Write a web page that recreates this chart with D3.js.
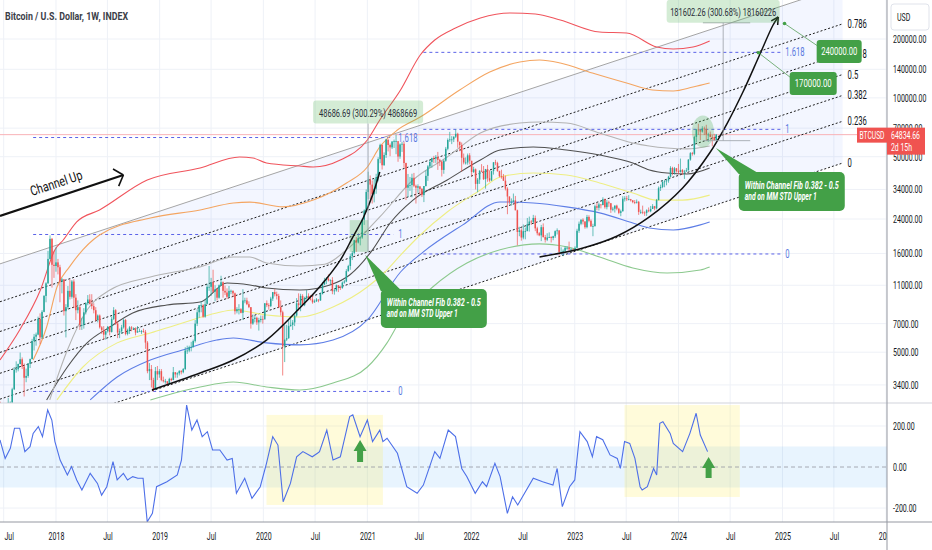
<!DOCTYPE html>
<html><head><meta charset="utf-8">
<script src="https://cdn.jsdelivr.net/npm/d3@7"></script>
<style>body{margin:0;background:#fff;overflow:hidden}svg{display:block;font-family:Roboto,"Noto Sans",sans-serif}</style>
</head><body>
<svg id="c" width="932" height="550"></svg>
<script>
// ---------- DATA ----------
const title = "Bitcoin / U.S. Dollar, 1W, INDEX";
const firstWeek = "2017-06-19";
const firstOpen = 2530;
// weekly candles [high, low, close]; open = previous close
const w2017 = [[2790,2430,2500],[2630,2340,2500],[2700,2480,2510],[2540,1840,1930],[2920,1920,2760],[2800,2480,2760],[3290,2600,3230],[4200,3200,4070],[4490,3930,4090],[4370,3990,4350],[4980,4330,4600],[4700,4100,4220],[4380,2970,3700],[4120,3510,3780],[4400,3700,4360],[4640,4150,4610],[5850,4600,5700],[6200,5100,6000],[6300,5400,6150],[7600,6100,7400],[7900,5500,5950],[8200,5850,8040],[9800,8000,9700],[11400,9000,11250],[16500,11200,15000],[19800,14900,19000],[19200,10700,14000],[16500,12000,13800]];
const w2018 = [[17200,12900,14400],[15000,12500,13600],[14000,9000,11500],[12000,10000,11800],[11800,7700,8100],[8800,5950,8500],[10900,8300,10300],[11800,9300,9600],[11700,9400,11500],[11800,8400,9500],[9900,7300,8200],[9200,7900,8500],[8700,6500,6900],[7500,6500,6900],[8400,6600,8000],[9000,7800,8900],[9800,8700,9300],[9900,8900,8800],[9900,8300,8600],[8900,7900,8200],[8500,7200,7300],[7800,7100,7700],[7800,6600,6700],[6800,6200,6500],[6800,5800,6150],[6400,5800,6400],[6800,6300,6750],[6800,6100,6350],[7600,6300,7400],[8500,7300,8200],[8300,6900,7000],[7200,5900,6300],[6600,5900,6400],[6900,6200,6700],[7400,6600,7300],[7400,6100,6200],[6600,6100,6500],[6800,6200,6700],[6800,6400,6600],[6700,6500,6600],[6700,6100,6300],[6800,6300,6400],[6600,6400,6400],[6500,6200,6400],[6600,6300,6350],[6500,5200,5600],[5700,3900,4000],[4400,3600,4100],[4300,3300,3600],[3700,3150,3200],[4200,3200,4000],[4250,3600,3850]];
const w2019 = [[4100,3700,4000],[4100,3550,3600],[3750,3500,3550],[3650,3450,3550],[3550,3370,3450],[3700,3400,3650],[3700,3550,3600],[4200,3600,3950],[3950,3700,3850],[3950,3700,3900],[4050,3800,4000],[4050,3850,3950],[4150,3900,4100],[5300,4050,5100],[5400,4900,5100],[5400,5000,5300],[5650,5050,5300],[5800,5300,5700],[7300,5600,7000],[8300,6800,8000],[8700,7500,8700],[9100,8000,8700],[8800,7500,7600],[9300,7500,8800],[11200,8900,10800],[13800,10300,10800],[12000,9700,11400],[13200,10100,10200],[11000,9100,10500],[10600,9200,9500],[11100,9400,11000],[12300,10900,11400],[11500,9500,10300],[10950,9800,10100],[10600,9350,9600],[10900,9600,10300],[10450,9900,10300],[10350,9600,10000],[10100,7800,8100],[8500,7900,8300],[8800,7800,8300],[8400,7900,7950],[10500,7300,9200],[9500,8900,9200],[9500,8700,8800],[9100,8400,8500],[8500,6600,7000],[7800,6900,7400],[7700,7100,7500],[7600,6900,7100],[7500,6450,7300],[7700,7100,7400]];
const w2020 = [[7700,7000,7350],[8900,7650,8900],[9200,8500,8700],[8900,8250,8600],[9600,8500,9400],[10150,9150,10150],[10500,9650,9900],[10200,9300,9700],[9950,8400,8500],[9200,7700,8000],[8150,3800,5350],[6900,4450,5800],[6900,5700,5900],[7300,5850,6800],[7450,6750,6900],[7300,6500,7100],[7800,6800,7700],[9450,7600,8900],[10000,8150,8700],[9950,8100,9700],[9900,8800,8700],[9600,8600,9450],[10400,9300,9700],[10000,9250,9400],[9800,9200,9300],[9800,8850,9000],[9300,8950,9100],[9450,9050,9300],[9300,9000,9200],[10100,9150,9900],[11450,9900,11100],[12000,11000,11700],[12100,11150,11900],[12500,11500,11650],[11800,11100,11700],[12100,9900,10250],[10500,9850,10350],[11100,10200,11000],[11000,10150,10750],[10950,10400,10650],[11500,10550,11350],[11700,11200,11500],[13300,11400,13000],[14000,12900,13800],[15950,13200,15500],[16450,14800,16100],[18800,15800,18700],[19400,16300,18200],[19900,18000,19200],[19450,17600,19300],[24200,19000,23800],[26900,22400,26500],[34000,26200,33000]];
const w2021 = [[41900,30300,38200],[40100,30400,36000],[37800,28800,32100],[38500,29200,34300],[40900,32300,39300],[49700,37400,48600],[58300,46300,57500],[57600,43000,45200],[52600,45000,51000],[61700,49300,61200],[61000,53200,57400],[58400,50300,55800],[60000,54700,59800],[61200,55400,60000],[64900,51500,60100],[57500,47100,50100],[58500,48800,57800],[59500,52900,58200],[59600,43900,46400],[46600,30000,34700],[40800,31100,35700],[39400,33400,35800],[40900,31000,39000],[41300,34900,35500],[36000,28800,34700],[36100,32700,35300],[35100,32100,34200],[34600,31100,31800],[35400,29300,35400],[42600,35200,39900],[45300,37600,44600],[48100,43800,47000],[49300,43900,49300],[50500,46400,48900],[51000,46500,49900],[52900,42800,48200],[48800,44800,47300],[47400,39600,42800],[48400,40900,47700],[56100,47100,54900],[62000,53900,60900],[67000,59500,61300],[63700,58000,61300],[63500,59400,63300],[69000,62300,65500],[66300,55600,59700],[59300,53300,57300],[59100,42000,49400],[51900,45700,46700],[49600,45600,46700],[51900,45500,50800],[52100,45700,47700]];
const w2022 = [[47500,39700,41800],[44400,41300,43100],[43500,34000,36300],[38900,32900,38200],[42600,36300,42400],[45800,41700,42200],[44800,38000,38400],[43300,34300,43200],[45400,37200,38800],[42600,37200,37800],[42400,37600,42200],[46900,40500,46800],[48200,45200,46400],[47100,41900,42200],[42400,39200,39700],[42900,38600,39500],[40800,37600,37700],[40000,33600,34300],[34900,25400,31300],[31300,28600,29400],[30600,28100,29400],[32400,29300,29900],[31500,26600,26600],[26800,17600,20600],[21900,19600,21000],[21500,18600,19300],[22500,18900,20800],[21700,18900,20800],[24300,20800,22600],[24700,20700,23300],[23700,22400,23200],[25200,22700,24300],[25000,20800,21500],[21900,19800,20300],[20600,19600,19800],[22400,18500,21800],[22800,19300,19400],[19900,18200,18800],[20300,18500,19300],[20500,19200,19400],[19600,18200,19200],[19700,18700,19600],[21000,19200,20800],[21500,20000,21000],[21000,15600,16300],[17200,15800,16300],[16800,15500,16500],[17400,16000,17100],[17400,16700,17100],[18400,16500,16800],[17100,16300,16800],[16900,16400,16600]];
const w2023 = [[17400,16500,17100],[21400,17100,20900],[23300,20400,22700],[23900,22300,23800],[24200,22500,23300],[23400,21400,21800],[25200,21500,24600],[25100,23100,23500],[23900,21900,22000],[22700,19600,22100],[28400,21900,27900],[29000,26600,27400],[29100,26500,28500],[28500,27200,28300],[31000,28200,30300],[30500,27100,27600],[30000,26900,29200],[29800,27700,28900],[29000,25800,26800],[27700,26300,27100],[28200,25900,28100],[28400,26600,27100],[27400,25400,25800],[26800,24800,26300],[31400,26200,30500],[31400,29500,30600],[31500,29700,30300],[31800,29900,30300],[30400,29500,29900],[30000,28900,29300],[30000,28600,29100],[30200,28800,29400],[29700,25200,26100],[26800,25500,26100],[28100,25400,25900],[26300,24900,25800],[26900,24900,26600],[27500,26000,26300],[28000,26000,27000],[28600,27200,27900],[28000,26600,27200],[30400,26900,30000],[35200,29900,34500],[36000,33400,35000],[38000,34500,37100],[37900,34900,37400],[38400,35700,37800],[39900,36800,39500],[44700,39300,43800],[44400,40200,41400],[44300,40500,43600],[43800,41500,42200]];
const w2024 = [[45900,40700,41700],[48900,41500,42800],[43200,40300,41600],[42800,38500,42000],[43800,41900,42600],[48600,42500,48300],[52800,47700,52100],[52900,50600,51700],[64000,50900,63100],[69200,59200,68900],[73800,64600,68400],[68900,60800,67200],[71600,66400,69700],[71300,64500,69400],[72800,60700,64900],[66300,59600,64900],[67200,62800,63100],[64700,56500,63000],[65500,60200,60800],[65300,60700,64834.66]];
const lastPrice = 64834.66;

const priceTicks = [200000,140000,100000,70000,50000,34000,24000,16000,11000,7000,5000,3400];
const oscTicks = [200,0,-200];
const timeTicks = ["2017-07-01","2018-01-01","2018-07-01","2019-01-01","2019-07-01","2020-01-01","2020-07-01","2021-01-01","2021-07-01","2022-01-01","2022-07-01","2023-01-01","2023-07-01","2024-01-01","2024-07-01","2025-01-01","2025-07-01","2026-01-01"];

// moving-average / std bands [decimal year, price]
const maRed = [[2017.46,4560],[2017.65,6500],[2017.85,10400],[2017.99,16700],[2018.07,18750],[2018.20,23200],[2018.42,26700],[2018.88,38000],[2019.39,43800],[2019.77,49800],[2019.90,49200],[2020.03,46400],[2020.35,44800],[2020.48,44300],[2020.74,48100],[2021.00,60900],[2021.12,77000],[2021.32,109700],[2021.51,165700],[2021.65,197700],[2021.85,227700],[2022.09,256100],[2022.38,271600],[2022.62,268500],[2022.86,250200],[2023.24,217300],[2023.50,214700],[2023.79,182000],[2023.95,177800],[2024.14,182000],[2024.30,195400]];
const maOrange = [[2017.78,4560],[2017.91,6730],[2018.01,10780],[2018.13,13650],[2018.42,19880],[2018.91,24300],[2019.39,26700],[2019.71,29000],[2019.87,29300],[2020.19,27700],[2020.48,30000],[2020.80,36700],[2021.00,44300],[2021.12,56100],[2021.29,68500],[2021.51,79800],[2021.89,109700],[2022.18,135600],[2022.47,152600],[2022.66,156200],[2022.86,150800],[2023.17,134000],[2023.50,119100],[2023.75,109700],[2023.95,108400],[2024.14,113600],[2024.30,119100]];
const maLightGray = [[2017.94,2850],[2018.11,5130],[2018.30,8220],[2018.52,10400],[2018.91,12130],[2019.39,13650],[2019.71,15350],[2019.87,15350],[2020.03,14300],[2020.35,13800],[2020.59,14100],[2020.80,16700],[2021.12,24600],[2021.44,38000],[2021.77,49800],[2022.09,66100],[2022.47,74300],[2022.66,75200],[2022.92,74300],[2023.24,66100],[2023.56,58800],[2023.89,55400],[2024.08,54800],[2024.30,56700]];
const maDarkGray = [[2017.91,2850],[2018.11,4200],[2018.30,5580],[2018.52,6730],[2018.74,7940],[2019.07,8720],[2019.39,9030],[2019.65,11300],[2019.87,11040],[2020.03,10650],[2020.35,10400],[2020.64,11040],[2020.83,12420],[2021.05,16700],[2021.22,22900],[2021.44,30000],[2021.77,38000],[2022.09,48100],[2022.28,54100],[2022.60,56100],[2022.92,54100],[2023.24,51000],[2023.56,46400],[2023.72,42800],[2023.89,41300],[2024.08,40800],[2024.30,43800]];
const maYellow = [[2018.01,2850],[2018.26,4200],[2018.59,5580],[2018.91,6270],[2019.22,7060],[2019.55,7940],[2019.71,8220],[2020.03,7750],[2020.35,7570],[2020.67,8520],[2021.00,10780],[2021.17,12860],[2021.32,15700],[2021.51,19880],[2021.77,26080],[2022.09,33800],[2022.28,39400],[2022.60,41300],[2022.92,40300],[2023.24,36700],[2023.56,32600],[2023.79,30000],[2024.04,30000],[2024.30,31800]];
const maBlue = [[2018.33,2850],[2018.59,3735],[2018.91,4560],[2019.22,5130],[2019.55,5770],[2019.71,5910],[2020.03,5580],[2020.35,5450],[2020.67,5770],[2021.00,7310],[2021.32,12860],[2021.54,16300],[2021.92,22400],[2022.28,29340],[2022.60,29000],[2022.92,27700],[2023.24,25800],[2023.56,22900],[2023.72,21600],[2023.95,21100],[2024.21,22400],[2024.30,23200]];
const maGreen = [[2018.91,2850],[2019.39,3320],[2019.71,3520],[2020.03,3320],[2020.35,3205],[2020.67,3480],[2021.00,4200],[2021.19,5580],[2021.32,7310],[2021.63,10780],[2021.96,14300],[2022.28,16700],[2022.66,17900],[2022.92,17300],[2023.24,15350],[2023.56,13490],[2023.89,12710],[2024.21,13170],[2024.30,13650]];

// oscillator [decimal year, value]
const osc = [[2017.46,132],[2017.51,42],[2017.56,91],[2017.60,189],[2017.65,189],[2017.70,75],[2017.75,99],[2017.78,164],[2017.83,197],[2017.87,148],[2017.92,278],[2017.96,229],[2017.99,124],[2018.04,34],[2018.11,-39],[2018.15,2],[2018.20,-63],[2018.25,-112],[2018.33,-31],[2018.40,-80],[2018.44,-137],[2018.49,-96],[2018.55,26],[2018.59,-63],[2018.65,-31],[2018.69,-63],[2018.74,-47],[2018.79,-55],[2018.84,-55],[2018.88,-267],[2018.93,-226],[2018.97,-96],[2019.07,-72],[2019.17,-39],[2019.21,34],[2019.26,302],[2019.31,180],[2019.36,229],[2019.41,148],[2019.46,172],[2019.51,83],[2019.58,83],[2019.65,34],[2019.70,42],[2019.74,-128],[2019.82,-55],[2019.89,-153],[2019.97,-96],[2020.03,18],[2020.09,148],[2020.14,107],[2020.19,-169],[2020.26,-80],[2020.32,50],[2020.38,75],[2020.47,50],[2020.52,67],[2020.54,75],[2020.61,180],[2020.67,34],[2020.74,50],[2020.83,246],[2020.86,254],[2020.93,148],[2021.00,229],[2021.05,124],[2021.12,180],[2021.15,124],[2021.19,140],[2021.29,67],[2021.38,-96],[2021.48,-128],[2021.54,-88],[2021.65,75],[2021.70,42],[2021.78,180],[2021.85,148],[2021.91,-7],[2021.96,-47],[2022.04,-128],[2022.11,-72],[2022.15,-96],[2022.23,18],[2022.28,-47],[2022.35,-226],[2022.40,-145],[2022.45,-185],[2022.60,-55],[2022.69,-72],[2022.79,-88],[2022.83,-7],[2022.88,-193],[2022.95,-96],[2023.00,-63],[2023.05,172],[2023.12,124],[2023.17,50],[2023.21,148],[2023.27,133],[2023.34,59],[2023.41,42],[2023.44,-7],[2023.48,124],[2023.53,115],[2023.58,42],[2023.63,-96],[2023.65,-112],[2023.70,-96],[2023.76,-7],[2023.79,-39],[2023.82,213],[2023.85,221],[2023.92,164],[2023.95,115],[2024.04,75],[2024.11,164],[2024.17,262],[2024.21,156],[2024.28,75]];

// drawing tools
const chanT = [2018.95, 2025.58], chanStart = 2017.46;
const chanZero = [3205, 46400], chanOne = [25800, 373400];
const chanLevels = [0, 0.236, 0.382, 0.5, 0.618, 0.786, 1];
const fibLevels = [0, 1, 1.618];
const fibSets = [{t0:2017.78, t1:2021.25, p0:3150, p1:20000},{t0:2021.54, t1:2024.98, p0:15900, p1:69000}];
const arc1 = [[2018.925,3205],[2019.39,3913],[2019.71,4560],[2020.03,5770],[2020.35,8420],[2020.54,10780],[2020.74,14800],[2020.86,19400],[2020.96,24300],[2021.05,31800],[2021.12,41750]];
const arc2 = [[2022.66,15350],[2023.08,17060],[2023.41,19650],[2023.72,24600],[2024.04,34580],[2024.30,52220],[2024.47,74300],[2024.62,107100],[2024.78,165700],[2024.91,235900],[2024.96,259200]];
const channelArrow = [[2017.46,24880],[2018.65,40300]];
const callouts = [{tl:[2021.13,10520], tip:[2020.98,15700], lens:[94,71]},{tl:[2024.58,41750], tip:[2024.36,55400], lens:[94,72]}];
const calloutText = ["Within Channel Fib 0.382 - 0.5","and on MM STD Upper 1"];
const highlightRect = [[2020.83,23700],[2021.01,16300]];
const highlightEllipse = [2024.235, 67300];
const measures = [{t:2021.007, lo:16213, hi:64900, label:"48686.69 (300.29%) 4868669", w:110, len:98, gap:11},
                  {t:2024.43, lo:60398, hi:242000, label:"181602.26 (300.68%) 18160226", w:113, len:106, gap:0, h0:2024.235, h1:2024.69}];
const targets = [{dot:[2025.02,240000], box:[2025.33,197700], w:45, label:"240000.00", len:36},
                 {dot:[2024.77,170000], box:[2025.07,135600], w:47, label:"170000.00", len:37}];
const oscBoxes = [[2020.03,2021.15,254,-185],[2023.48,2024.59,302,-146]];
const oscArrows = [[2020.93,132,24],[2024.29,49,-54]];

// ---------- RENDER ----------
const PR=887, MB=403, OT=403, OB=522, SX=0.64;
const svg=d3.select('#c');
const yd = t => {const Y=Math.floor(t), a=Date.UTC(Y,0,1), b=Date.UTC(Y+1,0,1); return new Date(a+(t-Y)*(b-a));};
const x = d3.scaleUtc().domain([new Date(Date.UTC(2017,5,18)), new Date(Date.UTC(2026,0,4))]).range([0,PR]);
const y = d3.scaleLog().domain([2748.6,316630]).range([MB,0]);
const oy = d3.scaleLinear().domain([-268,312]).range([OB,OT]);
const X = t => x(yd(t));
const defs=svg.append('defs');
defs.append('clipPath').attr('id','cm').append('rect').attr('x',0).attr('y',0).attr('width',PR).attr('height',MB);
defs.append('clipPath').attr('id','co').append('rect').attr('x',0).attr('y',OT).attr('width',PR).attr('height',OB-OT);
defs.append('clipPath').attr('id','ct').append('rect').attr('x',0).attr('y',OB).attr('width',PR).attr('height',30);

function T(g,x0,y0,s,o={}){const t=g.append('text').attr('transform',`translate(${x0},${y0}) scale(${o.sx||SX},1)`).attr('font-size',o.size||11).attr('fill',o.fill||'#131722').text(s);
 if(o.anchor)t.attr('text-anchor',o.anchor); if(o.weight)t.attr('font-weight',o.weight); return t;}
function TL(g,x0,y0,s,len,o={}){const t=g.append('text').attr('x',x0).attr('y',y0).attr('textLength',len).attr('lengthAdjust','spacingAndGlyphs').attr('font-size',o.size||11).attr('fill',o.fill||'#131722').text(s);
 if(o.anchor)t.attr('text-anchor',o.anchor); if(o.weight)t.attr('font-weight',o.weight); if(o.style)t.attr('font-style',o.style); return t;}

// grid
const gg=svg.append('g');
priceTicks.forEach(v=>gg.append('line').attr('x1',0).attr('x2',PR).attr('y1',y(v)).attr('y2',y(v)).attr('stroke','#eef1f7'));
oscTicks.filter(v=>v!==0).forEach(v=>gg.append('line').attr('x1',0).attr('x2',PR).attr('y1',oy(v)).attr('y2',oy(v)).attr('stroke','#eef1f7'));
timeTicks.forEach(d=>{const xx=x(new Date(d+'T00:00:00Z'));gg.append('line').attr('x1',xx).attr('x2',xx).attr('y1',0).attr('y2',OB).attr('stroke','#eef1f7');});

const gm=svg.append('g').attr('clip-path','url(#cm)');
// channel
function chanP(level,t){const f=(t-chanT[0])/(chanT[1]-chanT[0]);
 const z=Math.log10(chanZero[0])+f*(Math.log10(chanZero[1])-Math.log10(chanZero[0]));
 const o=Math.log10(chanOne[0])+f*(Math.log10(chanOne[1])-Math.log10(chanOne[0]));
 return Math.pow(10,z+level*(o-z));}
const xs=X(chanStart), xe=X(chanT[1]);
gm.append('path').attr('d',`M${xs},${y(chanP(0,chanStart))}L${xe},${y(chanP(0,chanT[1]))}L${xe},${y(chanP(1,chanT[1]))}L${xs},${y(chanP(1,chanStart))}Z`).attr('fill','rgba(41,98,255,0.055)');
// price line
gm.append('line').attr('x1',0).attr('x2',PR).attr('y1',y(lastPrice)).attr('y2',y(lastPrice)).attr('stroke','#f9b3b7').attr('stroke-width',1);
chanLevels.forEach(L=>{gm.append('line').attr('x1',xs).attr('x2',xe).attr('y1',y(chanP(L,chanStart))).attr('y2',y(chanP(L,chanT[1])))
 .attr('stroke',L===1?'#a5a5a5':'#1e1e1e').attr('stroke-width',1).attr('stroke-dasharray',L===1?null:'2,2');});
// fib retracements
fibSets.forEach(f=>{const a=Math.log10(f.p0), b=Math.log10(f.p1);
 fibLevels.forEach(L=>{const v=Math.pow(10,a+L*(b-a));
  gm.append('line').attr('x1',X(f.t0)).attr('x2',X(f.t1)).attr('y1',y(v)).attr('y2',y(v)).attr('stroke','#5b63e8').attr('stroke-dasharray','3,3').attr('stroke-width',1);
  T(gm,X(f.t1)+5,y(v)+4,String(L),{fill:'#5b7be0',size:12});});});
// MAs
const ln=d3.line().x(d=>X(d[0])).y(d=>y(d[1])).curve(d3.curveMonotoneX);
[[maGreen,'#8cc98e'],[maBlue,'#5e7ee6'],[maYellow,'#eeee84'],[maDarkGray,'#505050'],[maLightGray,'#b3b3b3'],[maOrange,'#f4a561'],[maRed,'#f0545c']]
 .forEach(([d,c])=>gm.append('path').attr('d',ln(d)).attr('fill','none').attr('stroke',c).attr('stroke-width',1.1));
// candles
const weeks=[].concat(w2017,w2018,w2019,w2020,w2021,w2022,w2023,w2024);
const t0=new Date(firstWeek+'T00:00:00Z');
const gc=gm.append('g');
weeks.forEach((w,i)=>{const o=i===0?firstOpen:weeks[i-1][2], c=w[2];
 const cx=x(d3.utcDay.offset(t0,7*i)); const col=c>=o?'#26a69a':'#ef5350';
 gc.append('line').attr('x1',cx).attr('x2',cx).attr('y1',y(w[0])).attr('y2',y(w[1])).attr('stroke',col).attr('stroke-width',0.7);
 const y1=Math.min(y(o),y(c)), h=Math.max(0.8,Math.abs(y(o)-y(c)));
 gc.append('rect').attr('x',cx-0.75).attr('width',1.5).attr('y',y1).attr('height',h).attr('fill',col);});
// highlights
gm.append('rect').attr('x',X(highlightRect[0][0])).attr('y',y(highlightRect[0][1])).attr('width',X(highlightRect[1][0])-X(highlightRect[0][0])).attr('height',y(highlightRect[1][1])-y(highlightRect[0][1])).attr('fill','rgba(76,175,80,0.28)');
gm.append('ellipse').attr('cx',X(highlightEllipse[0])).attr('cy',y(highlightEllipse[1])).attr('rx',11).attr('ry',16).attr('fill','rgba(76,175,80,0.28)');
// arcs
const la=d3.line().x(d=>X(d[0])).y(d=>y(d[1])).curve(d3.curveCatmullRom);
gm.append('path').attr('d',la(arc1)).attr('fill','none').attr('stroke','#111').attr('stroke-width',1.5);
gm.append('path').attr('d',la(arc2)).attr('fill','none').attr('stroke','#111').attr('stroke-width',1.5);
function head(g,p0,p1,len,ang,w){const a=Math.atan2(p1[1]-p0[1],p1[0]-p0[0]);
 [ang,-ang].forEach(s=>g.append('line').attr('x1',p1[0]).attr('y1',p1[1]).attr('x2',p1[0]-len*Math.cos(a+s)).attr('y2',p1[1]-len*Math.sin(a+s)).attr('stroke','#111').attr('stroke-width',w));}
{const n=arc2.length; head(gm,[X(arc2[n-2][0]),y(arc2[n-2][1])],[X(arc2[n-1][0]),y(arc2[n-1][1])],8,0.5,1.5);}
// channel up arrow
{const p0=[X(channelArrow[0][0]),y(channelArrow[0][1])], p1=[X(channelArrow[1][0]),y(channelArrow[1][1])];
 gm.append('line').attr('x1',p0[0]).attr('y1',p0[1]).attr('x2',p1[0]).attr('y2',p1[1]).attr('stroke','#111').attr('stroke-width',2.2);
 head(gm,p0,p1,12,0.85,1.6);
 const ang=Math.atan2(p1[1]-p0[1],p1[0]-p0[0])*180/Math.PI;
 gm.append('text').attr('transform',`translate(${(p0[0]+p1[0])/2-4},${(p0[1]+p1[1])/2-8}) rotate(${ang})`).attr('text-anchor','middle').attr('font-size',13.5).attr('textLength',54).attr('lengthAdjust','spacingAndGlyphs').attr('fill','#111').text('Channel Up');}
// measures
measures.forEach(m=>{const cx=X(m.t), yt=y(m.hi), yb=y(m.lo);
 const by=yt-m.gap-23;
 gm.append('line').attr('x1',cx).attr('x2',cx).attr('y1',by+23).attr('y2',yb).attr('stroke','#9aa0a6').attr('stroke-width',0.8);
 if(m.h0){[yt,yb].forEach(yy=>gm.append('line').attr('x1',X(m.h0)).attr('x2',X(m.h1)).attr('y1',yy).attr('y2',yy).attr('stroke','#9aa0a6').attr('stroke-width',0.8));}
 gm.append('rect').attr('x',cx-m.w/2).attr('y',by).attr('width',m.w).attr('height',23).attr('rx',3).attr('fill','rgba(76,175,80,0.24)');
 TL(gm,cx,by+16,m.label,m.len,{anchor:'middle',fill:'#2a2e39'});});
// channel labels
chanLevels.filter(L=>L<1).forEach(L=>T(gm,xe+5,y(chanP(L,chanT[1]))+4,String(L),{size:12}));
// targets
targets.forEach(t=>{const dx=X(t.dot[0]), dy=y(t.dot[1]), bx=X(t.box[0]), by=y(t.box[1]);
 gm.append('line').attr('x1',dx).attr('y1',dy).attr('x2',bx+4).attr('y2',by+8).attr('stroke','#6aa86c').attr('stroke-width',0.9);
 gm.append('circle').attr('cx',dx).attr('cy',dy).attr('r',1.8).attr('fill','#43a047');
 gm.append('rect').attr('x',bx).attr('y',by).attr('width',t.w).attr('height',23).attr('rx',3).attr('fill','#43a047');
 TL(gm,bx+t.w/2,by+15.5,t.label,t.len,{anchor:'middle',fill:'#fff'});});
// callouts
callouts.forEach(c=>{const bx=X(c.tl[0]), by=y(c.tl[1]), tx=X(c.tip[0]), ty=y(c.tip[1]);
 gm.append('path').attr('d',`M${tx},${ty}L${bx},${by+2}L${bx+21},${by+2}Z`).attr('fill','#43a047');
 gm.append('rect').attr('x',bx).attr('y',by).attr('width',106).attr('height',39).attr('rx',5).attr('fill','#43a047');
 calloutText.forEach((s,i)=>TL(gm,bx+6,by+17+i*11,s,c.lens[i],{fill:'#fff',weight:'bold',style:'italic',size:11}));});

// oscillator pane
const go=svg.append('g').attr('clip-path','url(#co)');
go.append('rect').attr('x',0).attr('width',PR).attr('y',oy(100)).attr('height',oy(-100)-oy(100)).attr('fill','rgba(33,150,243,0.1)');
oscBoxes.forEach(b=>go.append('rect').attr('x',X(b[0])).attr('width',X(b[1])-X(b[0])).attr('y',oy(b[2])).attr('height',oy(b[3])-oy(b[2])).attr('fill','rgba(255,238,88,0.22)'));
go.append('line').attr('x1',0).attr('x2',PR).attr('y1',oy(0)).attr('y2',oy(0)).attr('stroke','#9598a1').attr('stroke-dasharray','4,3').attr('stroke-width',0.8);
go.append('path').attr('d',d3.line().x(d=>X(d[0])).y(d=>oy(d[1])).curve(d3.curveLinear)(osc)).attr('fill','none').attr('stroke','#4d6fe8').attr('stroke-width',1.1);
oscArrows.forEach(a=>{const cx=X(a[0]), ty=oy(a[1]), by=oy(a[2]);
 go.append('path').attr('d',`M${cx},${ty}L${cx+6.5},${ty+11}L${cx+3},${ty+11}L${cx+3},${by}L${cx-3},${by}L${cx-3},${ty+11}L${cx-6.5},${ty+11}Z`).attr('fill','#43a047');});

// dividers
svg.append('line').attr('x1',0).attr('x2',932).attr('y1',OT).attr('y2',OT).attr('stroke','#d1d4dc').attr('stroke-width',1.2);
svg.append('line').attr('x1',0).attr('x2',932).attr('y1',OB).attr('y2',OB).attr('stroke','#9598a1').attr('stroke-width',1);
svg.append('line').attr('x1',PR).attr('x2',PR).attr('y1',0).attr('y2',550).attr('stroke','#9598a1').attr('stroke-width',1);

// axes
const ay=svg.append('g').attr('transform',`translate(${PR},0)`).call(d3.axisRight(y).tickValues(priceTicks).tickFormat(d=>d.toFixed(2)).tickSize(0).tickPadding(6));
const ao=svg.append('g').attr('transform',`translate(${PR},0)`).call(d3.axisRight(oy).tickValues(oscTicks).tickFormat(d=>d.toFixed(2)).tickSize(0).tickPadding(6));
[ay,ao].forEach(a=>{a.select('.domain').remove(); a.selectAll('text').attr('font-size',11).attr('fill','#131722').attr('font-family','Roboto').attr('x',6/SX).attr('transform',`scale(${SX},1)`);});
const at=svg.append('g').attr('clip-path','url(#ct)').append('g').attr('transform',`translate(0,${OB})`)
 .call(d3.axisBottom(x).tickValues(timeTicks.map(d=>new Date(d+'T00:00:00Z'))).tickFormat(d=>d.getUTCMonth()===0?String(d.getUTCFullYear()):'Jul').tickSize(0).tickPadding(10));
at.select('.domain').remove();
at.selectAll('text').attr('font-size',11).attr('fill','#131722').attr('font-family','Roboto').attr('transform',`scale(${SX},1)`);
at.selectAll('.tick').filter((d,i)=>i===0).select('text').attr('x',5/SX);

// title & USD
TL(svg,5,20,title,123,{fill:'#3b3e48',weight:'bold',size:11.5});
svg.append('rect').attr('x',891).attr('y',4).attr('width',38).attr('height',26).attr('rx',3).attr('fill','#fff').attr('stroke','#e0e3eb');
T(svg,897,21,'USD',{size:11});

// last price labels
const yp=y(lastPrice);
svg.append('rect').attr('x',857).attr('y',yp-7).attr('width',30).attr('height',15).attr('fill','#f05350');
TL(svg,872,yp+4,'BTCUSD',25,{anchor:'middle',fill:'#fff',size:10.5});
svg.append('rect').attr('x',887).attr('y',yp-7).attr('width',38).attr('height',27).attr('fill','#f05350');
TL(svg,891,yp+4.5,lastPrice.toFixed(2),29,{fill:'#fff',size:11});
TL(svg,891,yp+16,'2d 15h',21,{fill:'#fff',size:11});
</script>
</body></html>
